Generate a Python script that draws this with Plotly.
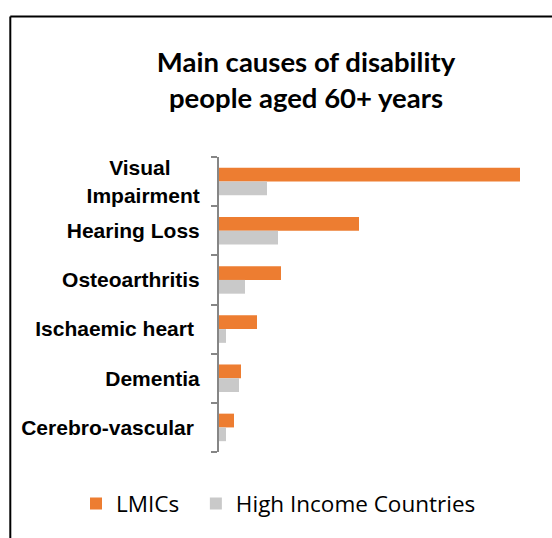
import plotly.graph_objects as go

categories = ["Visual Impairment", "Hearing Loss", "Osteoarthritis",
              "Ischaemic heart", "Dementia", "Cerebro-vascular"]
tick_labels = ["Visual\u00a0\u00a0\u00a0\u00a0\u00a0<br>Impairment", "Hearing Loss", "Osteoarthritis",
               "Ischaemic heart\u00a0", "Dementia", "Cerebro-vascular\u00a0"]
series_names = ["LMICs\u00a0\u00a0", "High Income Countries"]
lmics = [30.1, 14.0, 6.2, 3.8, 2.2, 1.5]
high_income = [4.8, 5.9, 2.6, 0.7, 2.0, 0.7]

W, H = 552, 538
L, R, T, B = 219, 22, 157, 81
pw, ph = W - L - R, H - T - B

def px(x):
    return (x - L) / pw

def py(y):
    return (H - B - y) / ph

fig = go.Figure()
fig.add_trace(go.Bar(y=categories, x=lmics, orientation="h", name=series_names[0],
                     marker=dict(color="#ED7D31", line=dict(width=0))))
fig.add_trace(go.Bar(y=categories, x=high_income, orientation="h", name=series_names[1],
                     marker=dict(color="#C9C9C9", line=dict(width=0))))

fig.update_layout(
    width=W, height=H, autosize=False,
    margin=dict(l=L, r=R, t=T, b=B),
    paper_bgcolor="white", plot_bgcolor="white",
    barmode="group", bargap=0.44, bargroupgap=0,
    title=dict(text="Main causes of disability<br>people aged 60+ years",
               x=306 / W, xanchor="center", xref="container",
               y=1 - 72 / H, yanchor="top", yref="container",
               font=dict(family="Lato", size=27.5, color="black", weight="bold")),
    xaxis=dict(range=[0, pw / 10], showgrid=False, zeroline=False,
               showticklabels=False, showline=False, ticks=""),
    yaxis=dict(type="category", autorange="reversed",
               tickmode="array", tickvals=categories, ticktext=tick_labels,
               tickson="boundaries", ticks="outside", ticklen=6, tickwidth=1.5,
               tickcolor="#868686", showline=True, linecolor="#868686", linewidth=2,
               showgrid=False, zeroline=False, ticklabelstandoff=13,
               tickfont=dict(family="Liberation Sans", size=21, color="black", weight="bold")),
    legend=dict(orientation="h", x=px(76), xanchor="left", y=py(488), yanchor="top",
                font=dict(family="Open Sans", size=22.5, color="black"),
                itemwidth=30,
                bgcolor="rgba(0,0,0,0)", borderwidth=0),
    showlegend=True,
    shapes=[
        dict(type="line", xref="paper", yref="paper", x0=px(10.3), x1=px(560),
             y0=py(14), y1=py(14), line=dict(color="black", width=2)),
        dict(type="line", xref="paper", yref="paper", x0=px(10.3), x1=px(10.3),
             y0=py(14), y1=py(545), line=dict(color="black", width=2)),
    ],
)

fig.write_html("out.html")
